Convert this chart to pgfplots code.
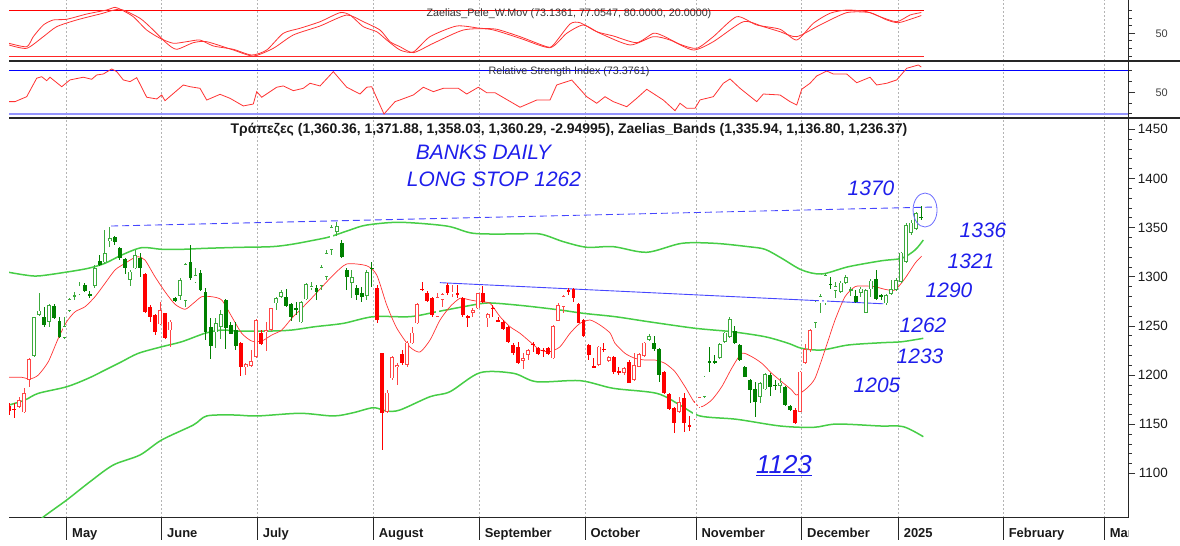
\documentclass[border=0pt]{standalone}
\usepackage{pgfplots}
\pgfplotsset{compat=1.18}
\usepackage{pgfplotstable}
\usepackage{fontspec}
\setmainfont{Liberation Sans}
\newfontfamily\hand{Liberation Sans}
\definecolor{bandgreen}{RGB}{70,205,70}
\definecolor{candlegreen}{RGB}{0,128,0}
\definecolor{hollowgreen}{RGB}{60,170,60}
\definecolor{candlered}{RGB}{255,0,0}
\definecolor{hollowred}{RGB}{255,70,70}
\definecolor{mared}{RGB}{255,50,50}
\definecolor{handblue}{RGB}{30,30,235}
\definecolor{linkblue}{RGB}{70,70,255}
\definecolor{gridgrey}{RGB}{180,180,180}
\definecolor{rsilow}{RGB}{150,150,255}

\pgfplotstableread{
x o h l c g
0 1168.8 1171.2 1159.3 1163.4 0
1 1165.3 1171.2 1156.0 1164.8 0
2 1167.8 1178.0 1166.1 1174.6 0
3 1162.1 1187.1 1161.0 1181.4 0
4 1195.0 1217.0 1188.2 1216.3 0
5 1219.7 1259.4 1218.7 1258.7 1
6 1261.1 1283.1 1260.4 1265.5 1
7 1259.0 1269.5 1249.2 1250.9 1
8 1254.3 1271.9 1249.2 1271.2 1
9 1270.6 1271.9 1257.0 1258.4 1
10 1255.0 1259.4 1238.0 1239.0 1
11 1238.0 1259.4 1236.7 1249.9 1
12 1265.1 1278.0 1264.5 1277.3 1
13 1280.4 1284.1 1276.3 1281.2 1
14 1282.1 1295.0 1281.4 1290.9 1
15 1291.6 1293.3 1284.8 1285.8 1
16 1282.3 1285.5 1278.0 1281.3 1
17 1290.9 1311.9 1288.2 1309.2 1
18 1316.0 1322.1 1311.3 1311.9 1
19 1314.6 1347.5 1312.6 1323.8 1
20 1336.3 1350.9 1330.6 1339.1 1
21 1340.1 1341.8 1332.3 1335.7 1
22 1328.9 1330.6 1317.0 1318.7 1
23 1317.7 1318.7 1302.4 1308.5 1
24 1296.7 1306.8 1290.9 1305.2 1
25 1308.5 1327.2 1307.9 1322.1 1
26 1318.7 1323.8 1300.1 1308.5 1
27 1302.4 1303.5 1262.8 1263.8 0
28 1269.5 1271.2 1253.6 1259.4 0
29 1261.1 1261.7 1240.7 1243.4 0
30 1251.6 1274.0 1250.9 1266.2 0
31 1262.8 1263.4 1236.7 1237.3 0
32 1245.5 1256.0 1228.9 1254.3 0
33 1278.0 1279.7 1274.6 1275.3 1
34 1280.4 1298.4 1276.3 1296.7 1
35 1275.3 1313.6 1269.5 1313.0 1
36 1314.6 1332.3 1296.7 1299.0 1
37 1294.3 1308.5 1293.3 1301.8 1
38 1303.5 1306.8 1285.5 1286.5 1
39 1284.8 1288.9 1235.6 1244.1 1
40 1249.2 1257.7 1216.3 1229.5 1
41 1243.4 1258.4 1227.2 1252.6 1
42 1249.2 1266.2 1236.7 1262.4 1
43 1276.0 1277.0 1226.5 1247.5 1
44 1250.9 1254.3 1241.4 1242.1 1
45 1245.8 1253.6 1225.5 1229.9 1
46 1232.6 1233.3 1199.4 1208.5 0
47 1208.1 1211.9 1200.1 1210.9 0
48 1209.5 1225.8 1208.5 1214.6 0
49 1218.7 1257.0 1217.7 1256.3 0
50 1243.1 1245.8 1230.6 1231.2 0
51 1243.4 1254.3 1224.5 1245.8 0
52 1245.8 1268.5 1244.8 1267.9 0
53 1272.9 1279.7 1266.2 1278.0 1
54 1279.4 1286.5 1278.0 1284.1 1
55 1279.4 1287.5 1269.5 1270.2 1
56 1271.9 1272.9 1255.0 1259.4 1
57 1268.1 1274.0 1261.1 1267.3 1
58 1253.6 1275.3 1252.9 1274.6 1
59 1277.0 1293.3 1276.3 1292.3 1
60 1288.2 1294.3 1286.5 1290.6 1
61 1288.6 1291.6 1276.4 1284.5 1
62 1290.6 1312.0 1286.5 1309.9 1
63 1299.7 1327.2 1296.7 1324.2 1
64 1327.2 1352.6 1322.1 1350.6 1
65 1345.5 1355.7 1341.5 1351.6 1
66 1334.3 1337.4 1319.1 1320.1 1
67 1306.9 1309.0 1286.5 1299.7 1
68 1293.6 1306.9 1278.7 1299.7 1
69 1288.6 1291.6 1276.4 1281.5 1
70 1283.5 1289.6 1274.3 1279.4 1
71 1280.4 1306.9 1276.4 1304.9 1
72 1309.2 1315.0 1289.6 1308.4 1
73 1288.3 1291.6 1252.6 1256.0 0
74 1222.1 1222.8 1123.8 1161.1 0
75 1162.8 1184.8 1161.1 1182.1 0
76 1196.7 1219.4 1195.0 1218.1 0
77 1207.9 1212.0 1189.9 1210.3 0
78 1221.4 1225.5 1210.3 1212.6 0
79 1210.3 1235.0 1208.6 1233.0 0
80 1232.3 1248.6 1231.6 1243.1 0
81 1252.6 1273.0 1252.0 1272.3 0
82 1287.8 1295.0 1285.9 1287.0 0
83 1283.8 1285.9 1274.7 1275.7 0
84 1278.1 1279.8 1259.4 1261.1 0
85 1259.4 1283.2 1258.7 1279.1 0
86 1276.4 1283.2 1269.6 1282.1 0
87 1291.6 1293.3 1281.5 1283.2 0
88 1282.5 1291.6 1279.8 1284.9 0
89 1282.8 1291.6 1278.1 1282.2 0
90 1278.1 1279.8 1259.4 1261.1 0
91 1259.7 1261.1 1249.2 1259.1 0
92 1263.5 1267.9 1259.4 1266.2 0
93 1267.9 1283.8 1266.9 1283.2 0
94 1283.8 1290.6 1273.0 1274.7 0
95 1257.7 1262.8 1249.2 1261.8 0
96 1268.2 1271.3 1259.4 1267.6 0
97 1255.6 1259.4 1254.3 1255.0 0
98 1254.3 1256.0 1245.9 1246.5 0
99 1249.2 1249.9 1233.0 1234.0 0
100 1230.6 1232.3 1220.4 1222.1 0
101 1228.2 1234.0 1211.3 1212.0 0
102 1214.7 1222.1 1205.8 1217.0 0
103 1220.4 1226.2 1215.3 1225.5 0
104 1231.9 1234.0 1223.8 1231.3 0
105 1227.2 1228.2 1220.4 1221.4 0
106 1225.8 1227.2 1218.1 1225.2 0
107 1227.2 1228.9 1220.4 1221.4 0
108 1217.0 1250.9 1216.0 1249.9 0
109 1255.3 1273.0 1254.7 1271.3 0
110 1269.6 1281.5 1263.5 1280.5 0
111 1286.1 1288.3 1281.5 1285.5 0
112 1287.2 1288.3 1274.7 1278.1 0
113 1272.3 1273.0 1252.6 1253.3 0
114 1256.0 1256.7 1239.1 1240.1 0
115 1230.6 1231.6 1215.3 1220.4 0
116 1208.8 1217.0 1206.9 1208.2 0
117 1210.3 1229.6 1209.6 1228.9 0
118 1226.4 1232.3 1223.8 1225.8 0
119 1214.7 1219.4 1213.6 1218.1 0
120 1218.1 1219.4 1201.1 1203.5 0
121 1203.8 1208.6 1200.1 1203.2 0
122 1202.5 1208.6 1200.1 1206.9 0
123 1213.7 1215.4 1191.6 1192.3 0
124 1195.0 1222.1 1194.3 1210.3 0
125 1208.6 1222.1 1207.9 1221.5 0
126 1219.8 1234.0 1218.8 1233.0 0
127 1235.7 1241.8 1235.0 1239.8 1
128 1233.0 1239.8 1224.9 1226.2 1
129 1226.2 1227.2 1193.3 1200.1 1
130 1203.5 1204.2 1180.8 1181.5 0
131 1180.8 1182.1 1164.5 1165.2 0
132 1166.2 1167.9 1141.4 1150.9 0
133 1162.8 1178.1 1161.8 1172.3 0
134 1176.4 1181.5 1142.4 1150.9 0
135 1148.6 1158.4 1143.5 1148.0 0
136 1155.0 1174.0 1154.3 1172.0 0
137 1167.2 1178.1 1166.2 1177.4 0
138 1177.4 1199.1 1176.4 1198.4 1
139 1214.7 1229.0 1203.5 1212.0 1
140 1213.9 1220.4 1211.3 1213.3 1
141 1217.1 1232.3 1216.0 1231.6 1
142 1234.0 1244.2 1233.0 1243.2 1
143 1239.1 1259.4 1237.4 1256.7 1
144 1245.2 1249.9 1231.6 1232.3 1
145 1230.6 1231.6 1214.7 1215.4 1
146 1208.6 1209.3 1197.7 1198.4 1
147 1195.0 1195.7 1171.3 1184.8 1
148 1185.5 1193.3 1157.7 1173.0 1
149 1178.1 1193.3 1171.3 1191.6 1
150 1185.5 1202.5 1184.8 1201.1 1
151 1200.1 1201.8 1178.7 1188.2 1
152 1190.2 1195.0 1184.8 1189.6 1
153 1188.9 1196.7 1181.5 1192.3 1
154 1188.2 1188.9 1168.6 1169.6 1
155 1168.6 1169.6 1163.8 1164.5 1
156 1164.5 1166.2 1150.2 1150.9 0
157 1162.8 1204.2 1162.1 1203.5 0
158 1212.0 1231.6 1211.3 1226.2 0
159 1225.5 1246.6 1223.8 1245.9 0
160 1252.7 1275.7 1247.6 1274.7 1
161 1273.0 1282.5 1262.8 1280.5 1
162 1273.0 1303.5 1271.3 1301.8 1
163 1292.6 1299.5 1287.2 1292.0 1
164 1285.9 1295.0 1278.1 1290.6 1
165 1284.9 1296.1 1283.9 1294.0 1
166 1293.4 1301.8 1292.3 1299.5 1
167 1285.6 1290.0 1280.5 1287.2 1
168 1280.5 1286.6 1273.7 1274.7 1
169 1283.2 1290.0 1279.1 1287.9 1
170 1263.5 1287.2 1262.8 1286.6 1
171 1287.2 1297.4 1279.8 1296.1 1
172 1297.4 1306.9 1276.4 1277.1 1
173 1280.8 1282.5 1276.4 1280.2 1
174 1273.0 1282.5 1271.3 1281.5 1
175 1282.5 1296.7 1281.5 1287.2 1
176 1286.6 1298.4 1285.9 1296.7 1
177 1295.0 1325.6 1294.0 1324.6 1
178 1315.4 1354.4 1314.4 1352.7 1
179 1344.9 1357.8 1342.5 1355.1 1
180 1348.3 1366.0 1347.6 1364.6 1
181 1360.36 1371.88 1358.03 1360.29 1
}\candles

\pgfplotsset{
  base/.style={
    scale only axis, width=1119bp, xmin=0, xmax=222.02,
    anchor=south west,
    axis y line*=right, axis x line*=bottom,
    xtick={11.45,30.30,49.27,72.28,93.31,114.29,136.31,157.28,176.45,197.28,217.32},
    xticklabels={}, xmajorgrids,
    major x grid style={draw=gridgrey, dash pattern=on 2bp off 2bp, line width=0.6bp},
    tick align=outside, major tick length=7bp, minor tick length=3.5bp,
    yticklabel pos=right,
    tick style={line width=0.7bp, black!80},
    axis line style={line width=1bp, black!85},
    /pgf/number format/assume math mode=true,
    /pgf/number format/1000 sep={},
  },
  candlewick/.style 2 args={draw=none, no markers, forget plot,
    restrict expr to domain={2*\thisrow{g}+(\thisrow{c}>\thisrow{o})}{#1},
    error bars/.cd, y dir=both, y explicit, error mark=none,
    error bar style={line width=0.8bp, draw=#2, solid}},
  candlebody/.style 2 args={draw=none, no markers, forget plot,
    restrict expr to domain={2*\thisrow{g}+(\thisrow{c}>\thisrow{o})}{#1},
    error bars/.cd, y dir=both, y explicit, error mark=none,
    error bar style={line width=3.8bp, draw=#2, solid}},
}

\begin{document}
\begin{tikzpicture}
\path[use as bounding box] (0,0) rectangle (1180bp,546bp);

% ---------- top oscillator panel ----------
\begin{axis}[base, at={(9bp,485bp)}, height=61bp,
  ymin=13.47, ymax=93.52,
  xtick style={draw=none}, x axis line style={draw=none},
  ytick={50}, yticklabels={}, minor ytick={20,30,40,60,70,80},
]
\addplot[red, line width=1bp] coordinates {(0,80) (181.5,80)};
\addplot[red!85, line width=1bp] coordinates {(0,20) (181.5,20)};
\addplot[mared, line width=0.8bp, smooth, tension=0.4] coordinates {
(0,36.7) (3.51,32.2) (4.82,45.4) (6.81,60.7) (8.79,67.3) (11.45,68.2) (15.42,75.1) (19.38,80.4) (21.03,83.9) (22.36,80.4) (24.66,71.6) (27.32,54.1) (29.96,43.3) (32.60,36.7) (35.26,38.8) (37.90,41.0) (40.54,33.2) (44.50,28.8) (48.15,21.3) (51.13,27.9) (54.42,49.8) (57.74,56.4) (61.71,65.0) (65.67,76.9) (67.66,73.8) (70.30,58.5) (72.96,51.9) (74.94,41.0) (77.58,27.9) (80.22,25.3) (83.53,45.4) (88.83,59.4) (93.45,56.4) (96.77,55.1) (101.39,45.4) (106.69,32.2) (108.0,34.5) (111.31,62.0) (113.29,63.7) (116.61,51.9) (119.90,46.3) (124.54,37.5) (127.84,49.8) (129.82,46.3) (133.13,35.4) (136.45,30.1) (139.74,45.4) (144.38,71.6) (148.35,60.7) (152.98,55.1) (156.29,41.0) (159.58,62.9) (162.90,76.1) (166.21,80.4) (170.18,78.2) (172.82,71.6) (176.13,65.0) (178.77,73.8) (181.0,77.05)};
\addplot[mared, line width=0.8bp, smooth, tension=0.4] coordinates {
(0,34.5) (3.51,30.1) (6.81,45.4) (9.46,58.5) (13.43,67.3) (18.06,75.1) (22.02,81.3) (25.99,69.5) (28.63,54.1) (31.29,36.7) (33.27,28.8) (36.57,37.5) (39.23,38.8) (44.50,27.9) (48.47,20.0) (52.44,30.1) (56.41,47.6) (61.71,59.4) (67.0,73.8) (70.30,65.0) (73.61,54.1) (75.60,38.8) (77.58,32.2) (80.22,24.4) (84.19,36.7) (90.14,54.1) (95.44,55.1) (101.39,43.3) (107.34,30.9) (110.65,49.8) (113.95,60.7) (117.26,49.8) (123.21,34.5) (127.84,45.4) (131.15,41.0) (135.77,27.9) (139.74,38.8) (145.69,65.0) (149.66,58.5) (152.98,51.9) (156.29,45.4) (160.91,60.7) (166.21,76.9) (170.83,76.9) (174.15,67.3) (176.45,63.7) (179.42,69.5) (181.0,73.14)};
\end{axis}

% ---------- RSI panel ----------
\begin{axis}[base, at={(9bp,428bp)}, height=57bp,
  ymin=26.0, ymax=79.0,
  xtick style={draw=none}, x axis line style={draw=none},
  ytick={50}, yticklabels={}, minor ytick={30,40,60,70},
]
\addplot[blue, line width=0.9bp] coordinates {(0,70) (222.02,70)};
\addplot[rsilow, line width=1.8bp] coordinates {(0,30) (222.02,30)};
\addplot[mared, line width=0.8bp] coordinates {
(0,41.2) (1.19,41.2) (3.51,45.8) (5.50,63.0) (6.49,64.4) (7.48,60.7) (8.13,63.9) (10.46,55.1) (12.10,61.4) (14.74,63.9) (16.41,62.0) (17.40,66.0) (18.71,66.9) (20.38,71.6) (21.37,69.1) (22.68,61.4) (24.01,59.8) (25.34,63.5) (27.32,45.3) (29.31,43.7) (30.30,47.4) (30.95,42.1) (34.58,56.7) (35.91,55.1) (37.90,53.6) (39.23,42.7) (41.87,48.0) (43.85,44.3) (46.49,37.2) (48.47,39.0) (49.15,50.5) (50.14,45.3) (53.11,54.6) (54.42,55.8) (56.41,51.4) (58.39,53.6) (59.72,58.3) (61.71,55.8) (64.35,69.1) (67.0,54.6) (69.64,48.3) (70.97,54.6) (71.96,55.1) (74.4,29.7) (76.59,41.2) (77.58,42.8) (80.22,47.4) (82.20,54.6) (84.19,50.5) (86.17,53.6) (89.15,53.6) (90.81,48.3) (93.12,54.6) (94.78,49.5) (96.43,49.5) (101.39,36.0) (104.70,42.7) (107.34,42.7) (108.67,56.7) (111.65,61.3) (114.62,45.8) (116.61,39.7) (118.25,45.8) (119.90,41.2) (122.56,36.5) (124.54,44.3) (126.53,52.7) (129.82,42.7) (132.14,32.8) (133.13,39.7) (134.46,35.0) (136.11,35.0) (137.10,42.8) (139.74,45.8) (141.73,58.3) (143.06,62.3) (145.04,53.6) (148.35,41.2) (149.66,48.3) (152.98,47.4) (154.96,41.2) (156.29,38.1) (157.28,52.7) (158.93,58.3) (160.26,65.1) (162.24,69.7) (163.55,66.9) (166.21,66.9) (168.19,58.8) (170.83,63.9) (172.16,56.7) (174.15,58.3) (176.13,61.4) (178.11,72.2) (180.42,75.3) (181.0,73.38)};
\end{axis}

% ---------- main price panel ----------
\begin{axis}[base, at={(9bp,28bp)}, height=400bp,
  ymin=1054.6, ymax=1461.5,
  xtick style={draw=none},
  ytick={1100,1150,...,1450}, minor y tick num=4,
  yticklabel style={font=\fontsize{13.5}{14}\selectfont, text=black!90, anchor=east, inner sep=0pt, xshift=33bp},
  minor xtick={4.17,9.13,15.42,20.38,25.34,35.26,40.22,45.18,54.31,59.39,64.35,69.31,74.27,79.43,83.39,88.29,98.27,103.37,108.33,113.29,118.59,123.35,128.37,133.47,137.44,142.40,147.36,152.32,162.56,167.40,172.28,174.27,182.08,187.36,192.52,202.24,207.34,212.36},
  minor x tick style={line width=0.7bp, black!80},
]
% bands
\addplot[bandgreen, line width=1.5bp, smooth, tension=0.5] coordinates {
(0,1304.5) (3.17,1301.8) (5.81,1300.8) (11.11,1304.5) (15.73,1308.6) (19.05,1313.7) (22.36,1322.1) (26.33,1329.6) (30.30,1327.9) (34.27,1327.9) (38.89,1328.9) (45.50,1329.9) (52.12,1330.6) (56.09,1333.0) (60.71,1337.4) (63.69,1340.7) (67.66,1347.6) (70.97,1352.6) (77.58,1355.4) (86.84,1351.6) (92.12,1344.2) (100.06,1343.5) (105.36,1343.5) (109.98,1335.7) (114.62,1330.0) (119.90,1330.6) (126.53,1324.9) (133.47,1334.0) (140.08,1334.0) (146.69,1330.6) (150.0,1327.9) (153.31,1318.8) (157.28,1306.9) (161.25,1302.8) (166.53,1310.2) (173.15,1316.3) (177.12,1318.8) (179.76,1327.2) (181.41,1337.4)};
\addplot[bandgreen, line width=1.5bp, smooth, tension=0.5] coordinates {
(0,1169.5) (3.17,1174.6) (5.81,1181.4) (11.45,1188.1) (15.73,1196.7) (19.05,1205.1) (22.36,1213.6) (25.65,1222.1) (30.30,1228.8) (34.27,1233.9) (38.89,1242.5) (42.20,1245.8) (45.50,1244.8) (52.12,1244.8) (56.09,1245.8) (60.71,1249.2) (66.33,1252.6) (72.28,1259.4) (79.56,1259.4) (84.86,1264.4) (89.48,1268.9) (94.11,1273.0) (96.77,1273.0) (102.72,1270.2) (109.33,1266.2) (113.95,1262.8) (120.24,1259.4) (126.85,1254.3) (136.11,1247.6) (143.39,1244.1) (150.0,1239.0) (154.62,1232.3) (157.28,1227.2) (161.25,1225.5) (166.53,1230.6) (173.15,1232.9) (177.12,1233.9) (181.41,1237.4)};
\addplot[bandgreen, line width=1.5bp, smooth, tension=0.5] coordinates {
(0,1027) (4.17,1042) (6.49,1054.3) (11.45,1072.9) (16.07,1091.5) (20.69,1108.5) (25.99,1118.7) (30.30,1134.0) (36.57,1149.2) (39.23,1158.4) (44.50,1159.4) (49.27,1158.4) (57.74,1161.1) (64.35,1158.4) (68.31,1161.7) (72.28,1166.8) (74.94,1163.4) (77.58,1164.5) (83.53,1178.0) (87.50,1183.1) (93.45,1202.4) (100.06,1201.8) (104.70,1193.2) (113.29,1194.3) (119.90,1186.5) (128.51,1181.4) (133.13,1169.5) (137.10,1158.4) (144.38,1155.0) (152.98,1148.2) (159.58,1146.8) (164.23,1150.2) (172.82,1148.2) (177.44,1147.5) (181.41,1137.3)};
% moving average
\addplot[mared, line width=0.7bp, smooth, tension=0.4] coordinates {
(0,1197.7) (2.52,1197.7) (4.17,1196.0) (5.81,1200.0) (7.80,1213.6) (9.78,1237.4) (11.45,1254.3) (13.10,1264.4) (15.08,1269.5) (17.06,1279.7) (19.05,1293.3) (21.03,1306.9) (23.02,1313.7) (24.66,1318.8) (25.65,1320.4) (26.98,1317.0) (28.97,1300.0) (30.95,1284.8) (32.94,1272.0) (34.92,1266.9) (36.57,1273.0) (38.23,1279.7) (40.22,1279.7) (42.20,1276.4) (44.19,1259.4) (46.17,1242.5) (48.15,1234.6) (50.14,1234.6) (52.12,1240.7) (54.11,1245.8) (56.09,1257.7) (58.08,1267.9) (60.0,1278.0) (61.71,1287.5) (64.35,1301.8) (67.0,1313.0) (70.97,1311.2) (72.96,1301.8) (74.94,1271.3) (76.92,1247.9) (79.56,1228.5) (81.55,1223.5) (83.53,1235.6) (85.52,1256.0) (87.5,1269.5) (89.48,1278.1) (91.47,1276.4) (93.45,1274.6) (95.44,1273.0) (97.42,1259.4) (99.40,1249.2) (101.39,1242.5) (103.37,1233.9) (105.36,1225.5) (107.34,1223.8) (109.33,1228.8) (111.31,1242.5) (113.29,1252.6) (115.28,1256.0) (117.26,1250.9) (119.25,1242.8) (120.24,1232.3) (122.22,1222.1) (124.21,1217.0) (126.19,1215.3) (128.17,1215.3) (130.16,1211.9) (132.14,1203.4) (134.13,1188.1) (136.11,1171.3) (137.44,1167.8) (139.42,1174.6) (141.41,1188.1) (143.39,1206.9) (145.38,1222.1) (147.36,1218.7) (149.35,1212.0) (151.33,1201.8) (153.31,1193.2) (155.30,1184.8) (156.29,1179.7) (158.27,1186.5) (159.92,1196.7) (161.90,1225.5) (163.89,1256.0) (165.87,1279.7) (167.86,1289.9) (169.84,1290.6) (171.83,1289.9) (173.81,1287.2) (175.79,1286.5) (177.78,1298.4) (179.76,1313.7) (181.09,1321.1)};
% trend lines
\addplot[linkblue, line width=0.9bp, dash pattern=on 7bp off 4bp] coordinates {(20.24,1351.6) (184.1,1371.0)};
\addplot[linkblue, line width=0.9bp] coordinates {(85.5,1294.0) (173.5,1272.5)};
% candle wicks: 0 red filled, 1 red hollow, 2 green filled, 3 green hollow
\addplot[candlewick={-0.5:0.5}{candlered}] table[x=x, y expr={(\thisrow{h}+\thisrow{l})/2}, y error expr={(\thisrow{h}-\thisrow{l})/2}] {\candles};
\addplot[candlewick={0.5:1.5}{hollowred}] table[x=x, y expr={(\thisrow{h}+\thisrow{l})/2}, y error expr={(\thisrow{h}-\thisrow{l})/2}] {\candles};
\addplot[candlewick={1.5:2.5}{candlegreen}] table[x=x, y expr={(\thisrow{h}+\thisrow{l})/2}, y error expr={(\thisrow{h}-\thisrow{l})/2}] {\candles};
\addplot[candlewick={2.5:3.5}{hollowgreen}] table[x=x, y expr={(\thisrow{h}+\thisrow{l})/2}, y error expr={(\thisrow{h}-\thisrow{l})/2}] {\candles};
% candle bodies
\addplot[candlebody={-0.5:0.5}{candlered}] table[x=x, y expr={(\thisrow{o}+\thisrow{c})/2}, y error expr={max(abs(\thisrow{c}-\thisrow{o})/2,0.5)}] {\candles};
\addplot[candlebody={0.5:1.5}{hollowred}] table[x=x, y expr={(\thisrow{o}+\thisrow{c})/2}, y error expr={max(abs(\thisrow{c}-\thisrow{o})/2,0.5)}] {\candles};
\addplot[candlebody={1.5:2.5}{candlegreen}] table[x=x, y expr={(\thisrow{o}+\thisrow{c})/2}, y error expr={max(abs(\thisrow{c}-\thisrow{o})/2,0.5)}] {\candles};
\addplot[candlebody={2.5:3.5}{hollowgreen}] table[x=x, y expr={(\thisrow{o}+\thisrow{c})/2}, y error expr={max(abs(\thisrow{c}-\thisrow{o})/2,0.5)}] {\candles};
% hollow interiors
\addplot[draw=none, no markers, forget plot,
    restrict expr to domain={(\thisrow{c}>\thisrow{o})}{0.5:1.5},
    error bars/.cd, y dir=both, y explicit, error mark=none,
    error bar style={line width=2.2bp, draw=white, solid}]
  table[x=x, y expr={(\thisrow{o}+\thisrow{c})/2}, y error expr={max(abs(\thisrow{c}-\thisrow{o})/2-0.8,0)}] {\candles};
\draw[color=linkblue!80, line width=0.8bp] (axis cs:181.75,1367.9) ellipse [x radius=12bp, y radius=17bp];
\end{axis}

% ---------- long month ticks ----------
\begin{axis}[scale only axis, width=1119bp, height=400bp, at={(9bp,28bp)}, anchor=south west,
  xmin=0, xmax=222.02, ymin=0, ymax=1, hide y axis,
  axis x line*=bottom, x axis line style={draw=none},
  xtick={11.45,30.30,49.27,72.28,93.31,114.29,136.31,157.28,176.45,197.28,217.32},
  xticklabels={}, tick align=outside, major tick length=22bp,
  xtick style={line width=0.9bp, black!85}]
\end{axis}

% separators
\draw[black!85, line width=1.2bp] (9bp,485bp) -- (1180bp,485bp);
\draw[black!85, line width=1.2bp] (9bp,428bp) -- (1180bp,428bp);

% tick labels of the two indicator panels
\node[anchor=east, inner sep=0pt, font=\fontsize{11}{12}\selectfont, text=black!75] at (1168bp,512.7bp) {50};
\node[anchor=east, inner sep=0pt, font=\fontsize{11}{12}\selectfont, text=black!75] at (1168bp,453.3bp) {50};

% month labels
\begin{scope}[font=\bfseries\fontsize{13}{13}\selectfont, text=black!90]
\node[anchor=base west] at (68.7bp,9bp) {May};
\node[anchor=base west] at (163.7bp,9bp) {June};
\node[anchor=base west] at (259.3bp,9bp) {July};
\node[anchor=base west] at (375.3bp,9bp) {August};
\node[anchor=base west] at (481.3bp,9bp) {September};
\node[anchor=base west] at (587bp,9bp) {October};
\node[anchor=base west] at (698bp,9bp) {November};
\node[anchor=base west] at (803.7bp,9bp) {December};
\node[anchor=base west] at (900.3bp,9bp) {2025};
\node[anchor=base west] at (1005.3bp,9bp) {February};
\begin{scope}
\clip (1000bp,0bp) rectangle (1128bp,30bp);
\node[anchor=base west] at (1106.3bp,9bp) {March};
\end{scope}
\end{scope}

% titles
\node[font=\fontsize{10.8}{11}\selectfont, text=black!80] at (569bp,532bp) {Zaelias\_Pele\_W.Mov (73.1361, 77.0547, 80.0000, 20.0000)};
\node[font=\fontsize{10.8}{11}\selectfont, text=black!80] at (569bp,474bp) {Relative Strength Index (73.3761)};
\node[font=\bfseries\fontsize{14}{14}\selectfont, text=black!90] at (569bp,416bp) {Τράπεζες (1,360.36, 1,371.88, 1,358.03, 1,360.29, -2.94995), Zaelias\_Bands (1,335.94, 1,136.80, 1,236.37)};

% hand annotations
\begin{scope}[font=\hand\itshape\fontsize{21}{21}\selectfont, text=handblue]
\node at (483.5bp,394bp) {BANKS DAILY};
\node at (494bp,367bp) {LONG STOP 1262};
\node at (871bp,358bp) {1370};
\node at (983bp,316bp) {1336};
\node at (971bp,285bp) {1321};
\node at (949bp,256bp) {1290};
\node at (923bp,221bp) {1262};
\node at (920bp,190bp) {1233};
\node at (877bp,161bp) {1205};
\node[font=\hand\itshape\fontsize{26}{26}\selectfont] at (784bp,80bp) {\underline{1123}};
\end{scope}
\end{tikzpicture}
\end{document}
